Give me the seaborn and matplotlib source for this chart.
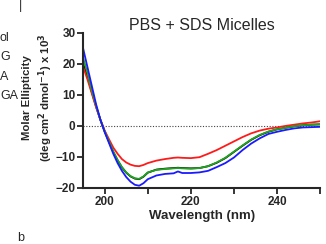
import pandas as pd
import seaborn as sns
import matplotlib.pyplot as plt

sns.set_theme(style="ticks")
plt.rcParams['font.family'] = ['Liberation Sans', 'DejaVu Sans']

wavelength = [195, 196, 197, 198, 199, 200, 201, 202, 203, 204, 205, 206, 207, 208, 209, 210,
              212, 214, 216, 217, 218, 220, 222, 224, 226, 228, 230, 232, 234, 236, 238, 240,
              242, 244, 246, 248, 250]

black = [20, 16, 11, 6.3, 2, -1.8, -5.1, -8.4, -11.1, -13.4, -15.1, -16.3, -17.0, -17.2, -16.4, -15.1,
         -14.1, -13.8, -13.6, -13.5, -13.6, -13.7, -13.6, -13.0, -11.9, -10.4, -8.4, -6.4, -4.5, -3.0,
         -1.9, -1.1, -0.6, -0.1, 0.2, 0.4, 0.5]
red = [19, 15, 10.5, 6, 2, -1.5, -4.3, -7, -9, -10.7, -11.8, -12.5, -12.9, -13, -12.6, -12,
       -11.2, -10.7, -10.3, -10.2, -10.3, -10.4, -10.1, -9, -7.8, -6.4, -5, -3.6, -2.4, -1.5,
       -0.9, -0.5, 0, 0.4, 0.8, 1.1, 1.5]
green = [22, 17, 11.5, 6.5, 2, -1.8, -5, -8.3, -11, -13.3, -15, -16.2, -16.9, -17.1, -16.3, -15,
         -14.2, -13.9, -13.7, -13.6, -13.7, -13.8, -13.6, -13, -11.8, -10.3, -8.3, -6.3, -4.4, -2.9,
         -1.8, -1.1, -0.6, -0.1, 0.2, 0.4, 0.5]
blue = [25, 19, 13, 7, 2, -2, -5.5, -9, -12, -14.5, -16.5, -18, -19, -19.3, -18.5, -17.2,
        -16, -15.5, -15.3, -14.7, -15.2, -15.2, -15, -14.5, -13.3, -12, -10.2, -7.8, -5.7, -4,
        -2.6, -1.9, -1.3, -0.8, -0.5, -0.4, -0.3]

series = {"black": black, "red": red, "green": green, "blue": blue}
colors = {"black": "#000000", "red": "#ff1a1a", "green": "#1fa51f", "blue": "#1a1aff"}

df = pd.DataFrame({"wavelength": wavelength, **series}).melt(
    id_vars="wavelength", var_name="sample", value_name="ellipticity")

fig = plt.figure(figsize=(3.26, 2.44), dpi=100)
ax = fig.add_axes([0.255, 0.23, 0.727, 0.635])

ax.axhline(0, color="#444444", linestyle=(0, (1, 1.5)), linewidth=0.8, zorder=1)
sns.lineplot(data=df, x="wavelength", y="ellipticity", hue="sample", palette=colors,
             linewidth=1.3, legend=False, ax=ax, zorder=2)

ax.set_xlim(195, 250)
ax.set_ylim(-20, 30)
ax.set_xticks([200, 220, 240])
ax.set_xticks([210, 230, 250], minor=True)
ax.set_yticks([-20, -10, 0, 10, 20, 30])
sns.despine(ax=ax)
for s in ["left", "bottom"]:
    ax.spines[s].set_linewidth(1.5)
ax.tick_params(axis="both", which="both", length=4, width=1.3, labelsize=8.5, pad=1.5)
for lab in ax.get_xticklabels() + ax.get_yticklabels():
    lab.set_fontweight("bold")

ax.set_xlabel("Wavelength (nm)", fontsize=9.5, fontweight="bold", labelpad=2)
ax.set_ylabel("Molar Ellipticity\n(deg cm$^\\mathbf{2}$ dmol$^\\mathbf{-1}$) x 10$^\\mathbf{3}$",
              fontsize=8.2, fontweight="bold", linespacing=1.3)
ax.yaxis.set_label_coords(-0.12, 0.585)
ax.set_title("PBS + SDS Micelles", fontsize=11.5, pad=2)

# fragments of the neighbouring panel
fig.text(0.0, 1 - 38 / 244, "ol", fontsize=9, va="center", ha="left")
fig.text(0.0, 1 - 57 / 244, "G", fontsize=9, va="center", ha="left")
fig.text(0.0, 1 - 77 / 244, "A", fontsize=9, va="center", ha="left")
fig.text(0.0, 1 - 96 / 244, "GA", fontsize=9, va="center", ha="left")
fig.text(17 / 326, 1 - 238 / 244, "b", fontsize=9, va="center", ha="left")
fig.text(20 / 326, 1.0, "|", fontsize=9, va="top", ha="center")

fig.savefig("out.png", dpi=100)
